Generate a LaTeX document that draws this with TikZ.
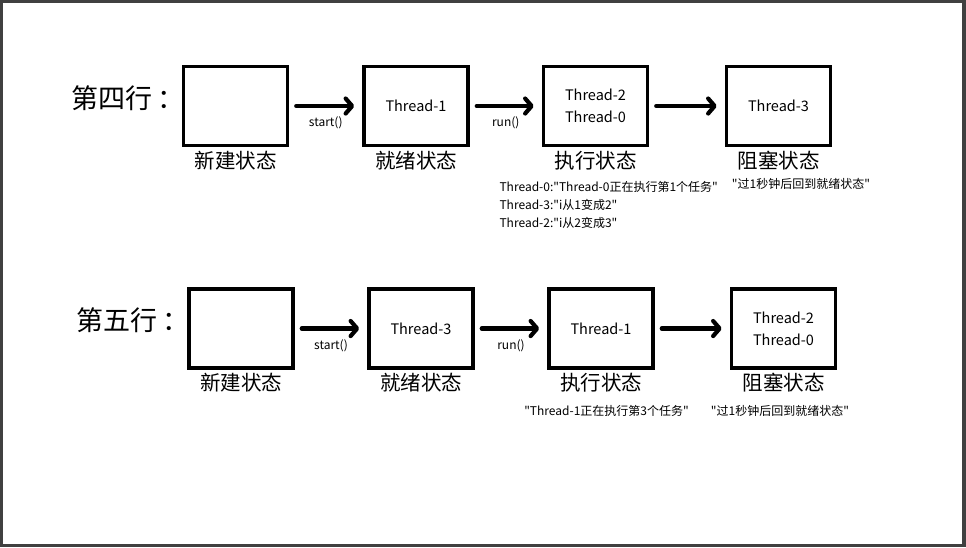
\documentclass[tikz,border=0pt]{standalone}
\usepackage{fontspec}
\newfontfamily\cjk{Noto Sans CJK SC}
\usetikzlibrary{arrows.meta}
\definecolor{framegray}{HTML}{404040}

\begin{document}
\begin{tikzpicture}[x=1pt,y=-1pt,
    state/.style={rectangle,draw,line width=3.5pt,minimum width=104pt,minimum height=79pt,inner sep=0pt,font=\cjk\fontsize{14.5}{22}\selectfont,align=center},
    statename/.style={font=\cjk\fontsize{20.5}{24}\selectfont},
    rowname/.style={font=\cjk\fontsize{27}{30}\selectfont},
    note/.style={font=\cjk\fontsize{12}{18.3}\selectfont,align=left},
    call/.style={font=\cjk\fontsize{12}{14}\selectfont,below=9pt,inner sep=0pt},
    go/.style={line width=4.2pt,line cap=round,shorten <=7pt,shorten >=8pt,-{Straight Barb[length=6.5pt,width=15pt,line cap=round,line join=round]}}]
    \fill[framegray] (0,0) rectangle (966,547);
    \fill[white] (3,3) rectangle (962,544);
    % 第四行
    \node at (128,98) [rowname] (r4) {第四行\kern6pt：};
    \node at (235.5,106) [state] (a1) {};
    \node at (416,106) [state] (a2) {Thread-1};
    \node at (595.5,106) [state] (a3) {Thread-2\\Thread-0};
    \node at (778.5,106) [state] (a4) {Thread-3};
    \node at (235.5,161) [statename] (a1t) {新建状态};
    \node at (416,161) [statename] (a2t) {就绪状态};
    \node at (595.5,161) [statename] (a3t) {执行状态};
    \node at (778.5,161) [statename] (a4t) {阻塞状态};
    \draw[go] (a1.east) -- (a2.west) node[midway,call] (s4) {start()};
    \draw[go] (a2.east) -- (a3.west) node[midway,call] (u4) {run()};
    \draw[go] (a3.east) -- (a4.west);
    \node at (496,205) [note,anchor=west] (n4) {Thread-0:"Thread-0正在执行第1个任务"\\Thread-3:"i从1变成2"\\Thread-2:"i从2变成3"};
    \node at (801,183.5) [note] (m4) {"过1秒钟后回到就绪状态"};
    % 第五行
    \node at (133,320) [rowname] (r5) {第五行\kern6pt：};
    \node at (241,328.5) [state] (b1) {};
    \node at (421,328.5) [state] (b2) {Thread-3};
    \node at (601,328.5) [state] (b3) {Thread-1};
    \node at (783.5,328.5) [state] (b4) {Thread-2\\Thread-0};
    \node at (241,383) [statename] (b1t) {新建状态};
    \node at (421,383) [statename] (b2t) {就绪状态};
    \node at (601,383) [statename] (b3t) {执行状态};
    \node at (783.5,383) [statename] (b4t) {阻塞状态};
    \draw[go] (b1.east) -- (b2.west) node[midway,call] (s5) {start()};
    \draw[go] (b2.east) -- (b3.west) node[midway,call] (u5) {run()};
    \draw[go] (b3.east) -- (b4.west);
    \node at (606.5,410.5) [note] (n5) {"Thread-1正在执行第3个任务"};
    \node at (780,410.5) [note] (m5) {"过1秒钟后回到就绪状态"};
\end{tikzpicture}
\end{document}
